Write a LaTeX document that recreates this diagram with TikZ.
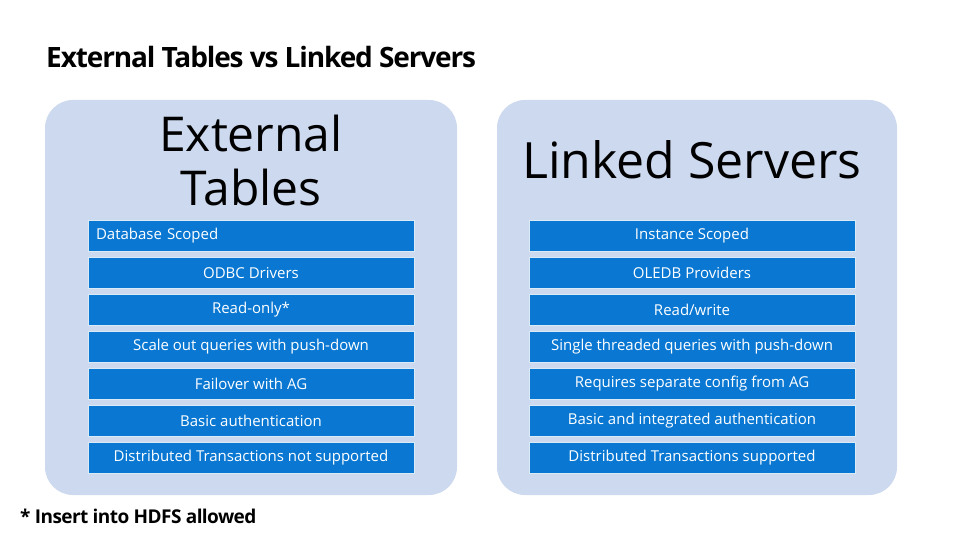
\documentclass[tikz,border=0pt]{standalone}
\usepackage{fontspec}
\setmainfont{Open Sans}
\begin{document}
\begin{tikzpicture}[x=1pt,y=-1pt,
  panel/.style={fill=panelc,draw=none,rounded corners=28pt},
  bar/.style={fill=barc,draw=white!85!barc,line width=0.6pt,minimum width=326pt,minimum height=31pt,inner sep=0pt,text=white,font=\fontsize{15}{15}\selectfont},
  lbar/.style={bar,text width=310pt,align=left},
  cbar/.style={bar,align=center}]
\definecolor{panelc}{HTML}{CDD9EE}
\definecolor{barc}{HTML}{0A78D2}
\useasboundingbox (0,0) rectangle (960,540);
\fill[white] (0,0) rectangle (960,540);
\node[anchor=west,font=\fontsize{28}{28}\selectfont\bfseries,inner sep=0pt] (title) at (46,57) {\addfontfeature{LetterSpace=-4}External Tables vs Linked Servers};
\fill[panelc,rounded corners=28pt] (45,100) rectangle (457,495);
\fill[panelc,rounded corners=28pt] (497,100) rectangle (897,495);
\node[align=center,font=\fontsize{48}{54}\selectfont,inner sep=0pt] (lh) at (251,160) {External\\Tables};
\node[font=\fontsize{50}{50}\selectfont,inner sep=0pt] (rh) at (692,160) {Linked Servers};
\node[lbar] (l1) at (251,236) {\hspace*{0pt}Database Scoped};
\node[cbar] (l2) at (251,273) {ODBC Drivers};
\node[cbar] (l3) at (251,310) {Read-only*};
\node[cbar] (l4) at (251,347) {Scale out queries with push-down};
\node[cbar] (l5) at (251,384) {Failover with AG};
\node[cbar] (l6) at (251,421) {Basic authentication};
\node[cbar] (l7) at (251,458) {Distributed Transactions not supported};
\node[cbar] (r1) at (692,236) {Instance Scoped};
\node[cbar] (r2) at (692,273) {OLEDB Providers};
\node[cbar] (r3) at (692,310) {Read/write};
\node[cbar] (r4) at (692,347) {Single threaded queries with push-down};
\node[cbar] (r5) at (692,384) {Requires separate config from AG};
\node[cbar] (r6) at (692,421) {Basic and integrated authentication};
\node[cbar] (r7) at (692,458) {Distributed Transactions supported};
\node[anchor=west,font=\fontsize{19}{19}\selectfont\bfseries,inner sep=0pt] (foot) at (20,516) {\addfontfeature{LetterSpace=-3}* Insert into HDFS allowed};
\end{tikzpicture}
\end{document}
